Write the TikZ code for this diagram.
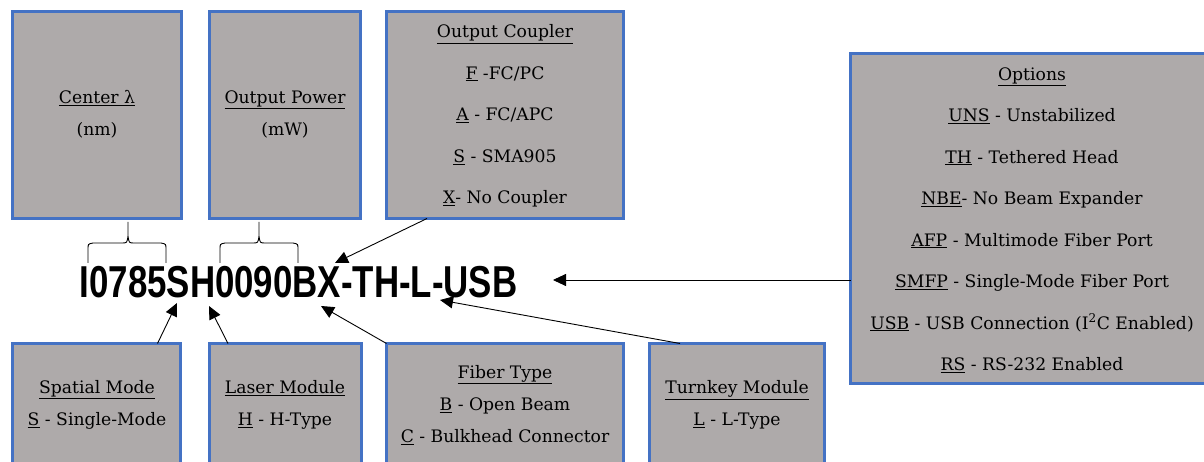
\documentclass[tikz,border=0pt]{standalone}
\usepackage{fontspec}
\setmainfont{DejaVu Serif}
\newfontfamily\codefont{Liberation Sans}
\usetikzlibrary{arrows.meta}
\definecolor{boxfill}{RGB}{174,170,170}
\definecolor{boxline}{RGB}{68,114,196}
\begin{document}
\begin{tikzpicture}[x=1pt,y=-1pt,
  infobox/.style={draw=boxline, line width=3pt, fill=boxfill, anchor=north west, inner sep=0pt, outer sep=0pt},
  lbl/.style={align=center, font=\fontsize{17.2}{41.5}\selectfont, inner sep=0pt},
  lblb/.style={align=center, font=\fontsize{17.2}{32}\selectfont, inner sep=0pt},
  conn/.style={line width=0.9pt, -{Triangle[length=13pt,width=12pt]}},
  bracepath/.style={line width=0.9pt}]
\useasboundingbox (0,0) rectangle (1204,462);
% boxes
\node[infobox, minimum width=169pt, minimum height=207pt] (centerBox) at (12.5,11.5) {};
\node[infobox, minimum width=151pt, minimum height=207pt] (powerBox) at (209.5,11.5) {};
\node[infobox, minimum width=237pt, minimum height=207pt] (couplerBox) at (386.5,11.5) {};
\node[infobox, minimum width=372pt, minimum height=330pt] (optionsBox) at (850.5,53.5) {};
\node[infobox, minimum width=168pt, minimum height=130pt] (spatialBox) at (12.5,343.5) {};
\node[infobox, minimum width=152pt, minimum height=130pt] (laserBox) at (209.5,343.5) {};
\node[infobox, minimum width=237pt, minimum height=130pt] (fiberBox) at (386.5,343.5) {};
\node[infobox, minimum width=175pt, minimum height=130pt] (turnkeyBox) at (649.5,343.5) {};
% texts
\node[lblb] (centerTxt) at (97,114) {\underline{Center λ}\\(nm)};
\node[lblb] (powerTxt) at (285,114) {\underline{Output Power}\\(mW)};
\node[lbl] (couplerTxt) at (505,116) {\underline{Output Coupler}\\\underline{F} -FC/PC\\\underline{A} - FC/APC\\\underline{S} - SMA905\\\underline{X}- No Coupler};
\node[lbl] (optionsTxt) at (1032,220) {\underline{Options}\\\underline{UNS} - Unstabilized\\\underline{TH} - Tethered Head\\\underline{NBE}- No Beam Expander\\\underline{AFP} - Multimode Fiber Port\\\underline{SMFP} - Single-Mode Fiber Port\\\underline{USB} - USB Connection (I\textsuperscript{2}C Enabled)\\\underline{RS} - RS-232 Enabled};
\node[lblb] (spatialTxt) at (97,405) {\underline{Spatial Mode}\\\underline{S} - Single-Mode};
\node[lblb] (laserTxt) at (285,405) {\underline{Laser Module}\\\underline{H} - H-Type};
\node[lblb] (fiberTxt) at (505,405) {\underline{Fiber Type}\\\underline{B} - Open Beam\\\underline{C} - Bulkhead Connector};
\node[lblb] (turnkeyTxt) at (737,405) {\underline{Turnkey Module}\\\underline{L} - L-Type};
% part number
\node[anchor=base, inner sep=0pt, xscale=0.78, transform shape, font=\codefont\bfseries\fontsize{44.7}{50}\selectfont] (partNo) at (298.5,297) {I0785SH0090BX-TH-L-USB};
% braces
\draw[bracepath] (88,263) -- (88,249) .. controls (88,244) .. (93,243) -- (122,243) .. controls (127,243) .. (128,236) -- (128,222)
  (128,236) .. controls (129,243) .. (134,243) -- (161,243) .. controls (166,244) .. (166,249) -- (166,263);
\draw[bracepath] (220,263) -- (220,249) .. controls (220,244) .. (225,243) -- (253,243) .. controls (258,243) .. (259,236) -- (259,222)
  (259,236) .. controls (260,243) .. (265,243) -- (293,243) .. controls (298,244) .. (298,249) -- (298,263);
% arrow targets
\coordinate (tipSpatial) at (177,303);
\coordinate (tipLaser) at (209,306);
\coordinate (tipFiber) at (321,306);
\coordinate (tipTurnkey) at (440,300);
\coordinate (tipOptions) at (553,280);
\coordinate (tipCoupler) at (335,263);
% connectors
\draw[conn] ([xshift=145pt]spatialBox.north west) -- (tipSpatial);
\draw[conn] ([xshift=18.5pt]laserBox.north west) -- (tipLaser);
\draw[conn] (fiberBox.north west) -- (tipFiber);
\draw[conn] ([xshift=30.5pt]turnkeyBox.north west) -- (tipTurnkey);
\draw[conn] (tipOptions -| optionsBox.west) -- (tipOptions);
\draw[conn] ([xshift=40.5pt]couplerBox.south west) -- (tipCoupler);
\end{tikzpicture}
\end{document}
